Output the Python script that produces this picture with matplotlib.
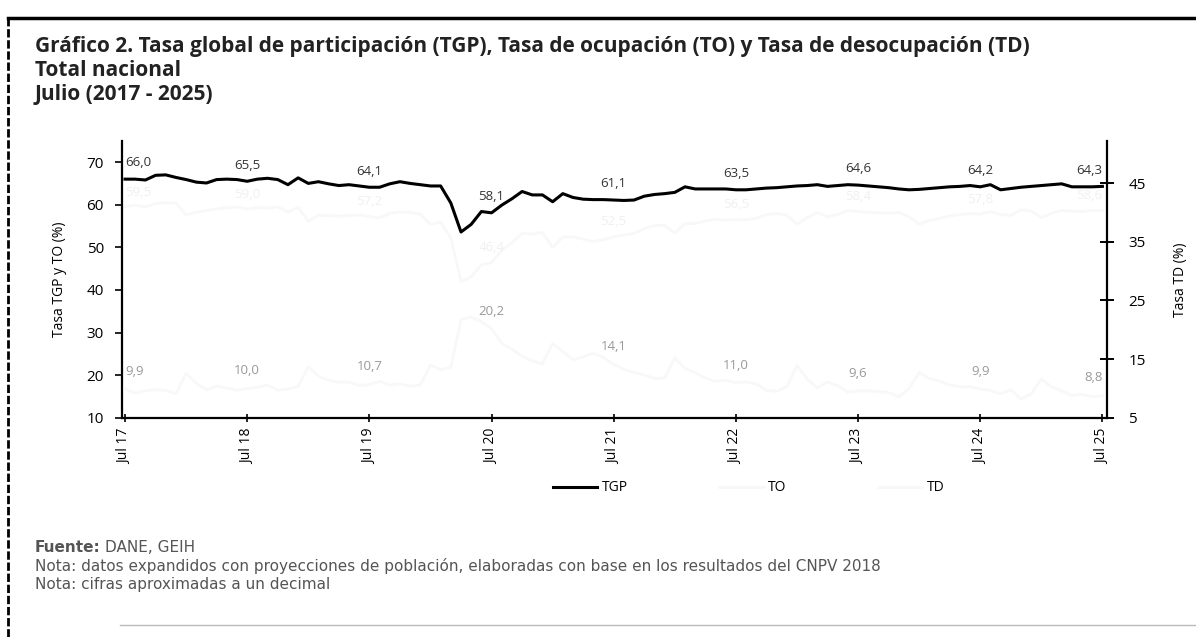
import matplotlib
matplotlib.use("Agg")
import matplotlib.pyplot as plt
from matplotlib.lines import Line2D

plt.rcParams['font.family'] = ['Open Sans', 'DejaVu Sans']

# monthly series, Jul 2017 - Jul 2025
tgp = [66.0, 66.0, 65.8, 66.9, 67.0, 66.4,
       65.9, 65.3, 65.1, 65.9, 66.0, 65.9, 65.5, 66.0, 66.2, 65.9, 64.7, 66.3,
       65.0, 65.4, 64.9, 64.5, 64.7, 64.4, 64.1, 64.1, 64.9, 65.4, 65.0, 64.7,
       64.4, 64.4, 60.4, 53.6, 55.4, 58.4, 58.1, 59.9, 61.4, 63.1, 62.3, 62.3,
       60.7, 62.6, 61.7, 61.3, 61.2, 61.2, 61.1, 61.0, 61.1, 62.0, 62.4, 62.6,
       62.9, 64.2, 63.7, 63.7, 63.7, 63.7, 63.5, 63.5, 63.7, 63.9, 64.0, 64.2,
       64.4, 64.5, 64.7, 64.3, 64.5, 64.7, 64.6, 64.4, 64.2, 64.0, 63.7, 63.5,
       63.6, 63.8, 64.0, 64.2, 64.3, 64.5, 64.2, 64.7, 63.5, 63.8, 64.1, 64.3,
       64.5, 64.7, 64.9, 64.2, 64.2, 64.2, 64.3]
to = [59.5, 59.9, 59.5, 60.3, 60.5, 60.4,
      57.6, 58.2, 58.7, 59.0, 59.3, 59.5, 59.0, 59.3, 59.2, 59.5, 58.3, 59.4,
      56.1, 57.5, 57.5, 57.3, 57.5, 57.6, 57.2, 56.9, 58.0, 58.3, 58.2, 57.8,
      55.4, 55.9, 52.2, 42.0, 43.1, 45.9, 46.4, 49.3, 51.1, 53.3, 53.1, 53.5,
      50.0, 52.4, 52.5, 51.9, 51.4, 51.8, 52.5, 52.9, 53.3, 54.4, 55.1, 55.2,
      53.3, 55.6, 55.6, 56.2, 56.6, 56.4, 56.5, 56.5, 56.8, 57.7, 57.9, 57.6,
      55.4, 57.0, 58.2, 57.2, 57.7, 58.6, 58.4, 58.2, 58.1, 58.0, 58.2, 57.2,
      55.5, 56.3, 56.8, 57.4, 57.7, 57.9, 57.8, 58.4, 57.7, 57.5, 58.8, 58.5,
      57.0, 58.0, 58.7, 58.5, 58.4, 58.7, 58.6]
td = [9.9, 9.2, 9.6, 9.8, 9.7, 9.1,
      12.6, 10.9, 9.8, 10.4, 10.1, 9.7, 10.0, 10.2, 10.6, 9.7, 9.9, 10.4,
      13.7, 12.1, 11.4, 11.1, 11.1, 10.5, 10.7, 11.2, 10.6, 10.8, 10.4, 10.6,
      14.0, 13.2, 13.6, 21.7, 22.2, 21.4, 20.2, 17.7, 16.7, 15.5, 14.7, 14.2,
      17.7, 16.3, 14.9, 15.4, 16.0, 15.3, 14.1, 13.3, 12.7, 12.3, 11.7, 11.8,
      15.2, 13.4, 12.7, 11.8, 11.2, 11.4, 11.0, 11.1, 10.8, 9.7, 9.5, 10.3,
      13.9, 11.6, 10.1, 11.1, 10.5, 9.4, 9.6, 9.6, 9.5, 9.3, 8.6, 10.0,
      12.7, 11.7, 11.3, 10.6, 10.3, 10.3, 9.9, 9.7, 9.1, 9.8, 8.2, 9.1,
      11.6, 10.3, 9.6, 8.8, 9.0, 8.6, 8.8]
tick_labels = ["Jul 17", "Jul 18", "Jul 19", "Jul 20", "Jul 21",
               "Jul 22", "Jul 23", "Jul 24", "Jul 25"]

x = list(range(len(tgp)))
july = list(range(0, len(tgp), 12))

def fmt(v):
    return f"{v:.1f}".replace(".", ",")

fig = plt.figure(figsize=(11.96, 6.37), dpi=100)
ax = fig.add_axes([0.102, 0.344, 0.824, 0.435])
ax2 = ax.twinx()

# the TO and TD lines came out almost white in the scanned original
l1, = ax.plot(x, tgp, color="black", lw=2.2, label="TGP", zorder=5)
l2, = ax.plot(x, to, color="#f8f8f8", lw=2.0, label="TO")
l3, = ax2.plot(x, td, color="#f8f8f8", lw=2.0, label="TD")

# data labels on the July points
for i in july:
    ha = "center"
    if i == 0:
        ha = "left"
    if i == july[-1]:
        ha = "right"
    ax.annotate(fmt(tgp[i]), (i, tgp[i]), xytext=(0, 7), textcoords="offset points",
                ha=ha, va="bottom", fontsize=9.5, color="#333333")
    ax.annotate(fmt(to[i]), (i, to[i]), xytext=(0, 6), textcoords="offset points",
                ha=ha, va="bottom", fontsize=9.5, color="#f0f0f0")
    ax2.annotate(fmt(td[i]), (i, td[i]), xytext=(0, 8), textcoords="offset points",
                 ha=ha, va="bottom", fontsize=9.5, color="#999999")

ax.set_xlim(-0.3, 96.5)
ax.set_ylim(10, 75)
ax2.set_ylim(5, 52.2)
ax.set_yticks([10, 20, 30, 40, 50, 60, 70])
ax2.set_yticks([5, 15, 25, 35, 45])
ax.set_xticks(july)
ax.set_xticklabels(tick_labels, rotation=90, fontsize=10)

for a in (ax, ax2):
    a.spines["top"].set_visible(False)
    for s in ("left", "right", "bottom"):
        a.spines[s].set_linewidth(1.6)
ax.spines["right"].set_visible(False)
ax2.spines["left"].set_visible(False)
ax2.spines["bottom"].set_visible(False)

ax.tick_params(axis="y", direction="out", length=5, width=1.2, labelsize=11, pad=8)
ax.tick_params(axis="x", direction="inout", length=6, width=1.2, pad=5)
ax2.tick_params(axis="y", direction="inout", length=10, width=1.4, labelsize=11, pad=10)

ax.set_ylabel("Tasa TGP y TO (%)", fontsize=10, labelpad=14)
ax2.set_ylabel("Tasa TD (%)", fontsize=10, rotation=90, labelpad=20)

fig.legend(handles=[l1, l2, l3], loc="center", bbox_to_anchor=(0.626, 0.234),
           ncol=3, frameon=False, fontsize=10, handlelength=3.2,
           columnspacing=6.6, handletextpad=0.3)

# titles
title_font = dict(fontsize=15, fontweight="bold", va="center", color="#222222")
fig.text(0.029, 0.927, "Gráfico 2. Tasa global de participación (TGP), Tasa de ocupación (TO) y Tasa de desocupación (TD)",
         **title_font)
fig.text(0.029, 0.889, "Total nacional", **title_font)
fig.text(0.029, 0.851, "Julio (2017 - 2025)", **title_font)

# footer
note_font = dict(fontsize=11, va="center", color="#555555", family="DejaVu Sans")
fig.text(0.029, 0.141, "Fuente:", fontweight="bold", **note_font)
fig.text(0.088, 0.141, "DANE, GEIH", **note_font)
fig.text(0.029, 0.112, "Nota: datos expandidos con proyecciones de población, elaboradas con base en los resultados del CNPV 2018",
         **note_font)
fig.text(0.029, 0.083, "Nota: cifras aproximadas a un decimal", **note_font)

# frame of the scanned box
fig.add_artist(Line2D([0.0067, 1.0], [0.972, 0.972], color="black", lw=2.5))
fig.add_artist(Line2D([0.0067, 0.0067], [0.0, 0.972], color="black", lw=2.0, ls=(0, (3, 1))))
fig.add_artist(Line2D([0.1, 1.0], [0.019, 0.019], color="#bbbbbb", lw=1.0))

fig.savefig("out.png", dpi=100)
